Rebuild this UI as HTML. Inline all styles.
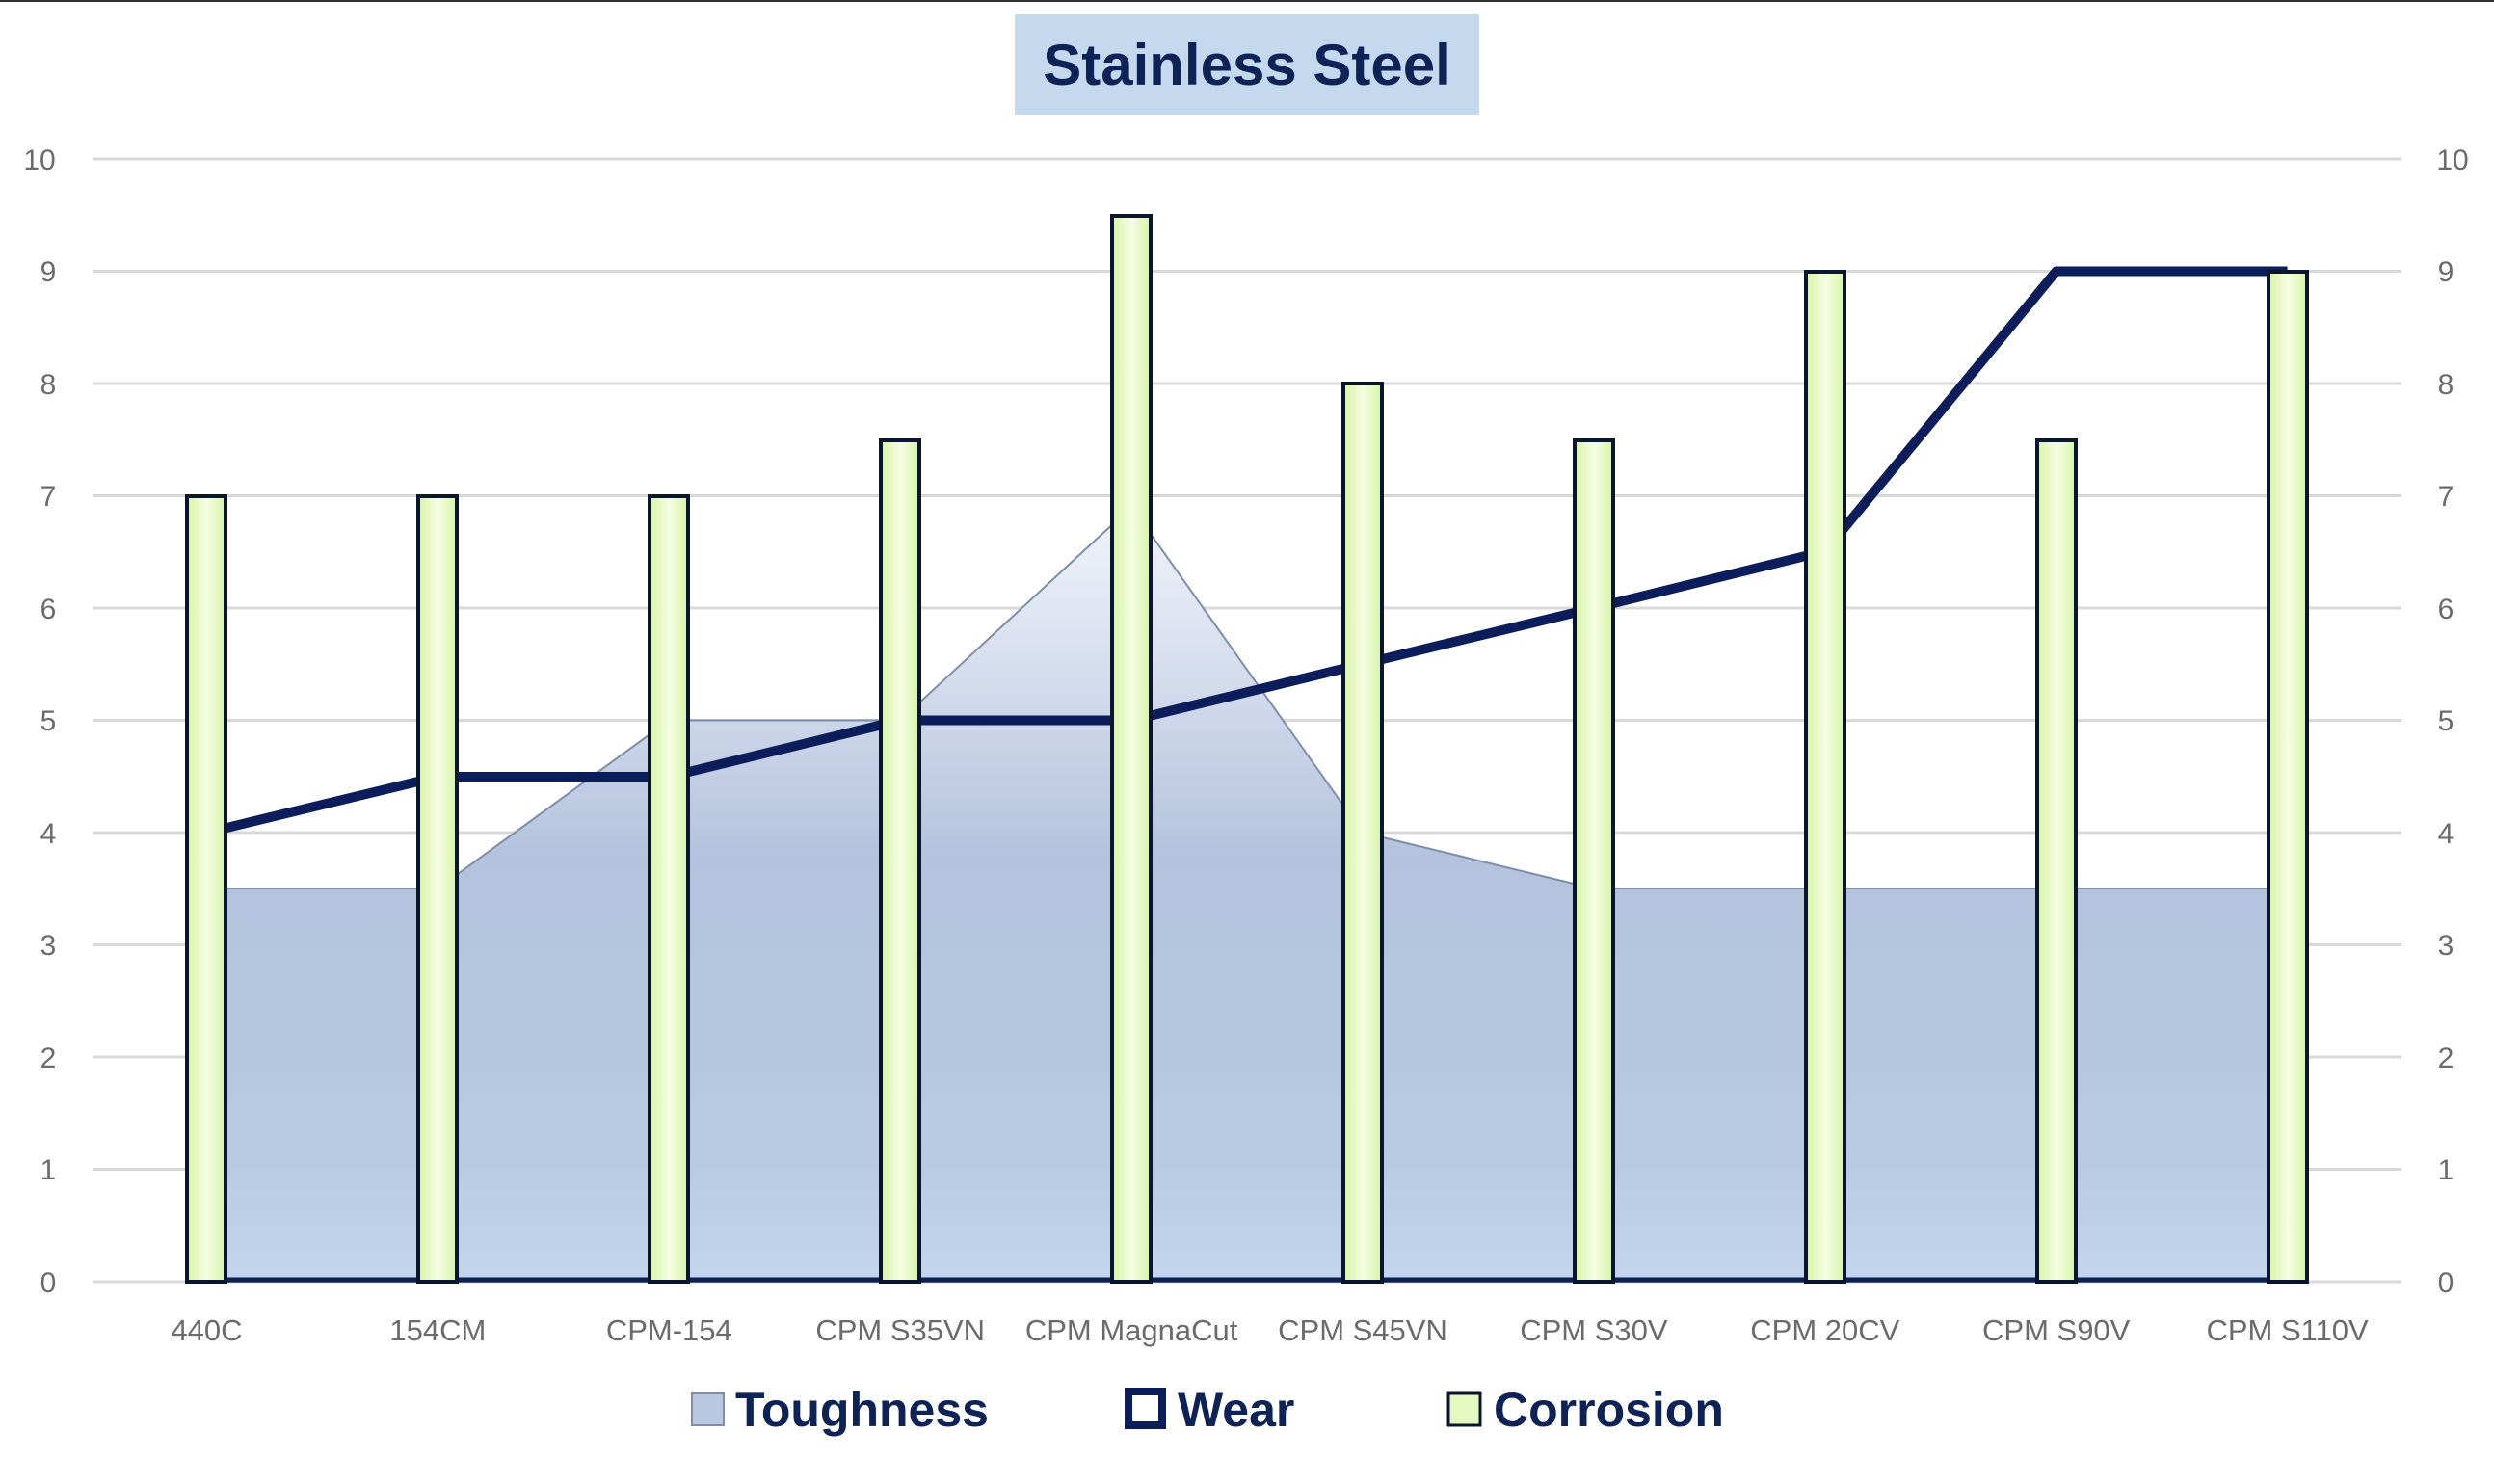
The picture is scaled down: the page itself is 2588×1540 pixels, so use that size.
<!DOCTYPE html>
<html><head><meta charset="utf-8"><style>
html,body{margin:0;padding:0;background:#fff;}
svg{display:block;}
</style></head><body>
<svg width="2588" height="1540" viewBox="0 0 2588 1540" xmlns="http://www.w3.org/2000/svg" font-family="Liberation Sans, sans-serif">
<defs>
<linearGradient id="ag" gradientUnits="userSpaceOnUse" x1="0" y1="530" x2="0" y2="1330">
<stop offset="0" stop-color="#f1f3fa"/>
<stop offset="0.3" stop-color="#c9d3e8"/>
<stop offset="0.45" stop-color="#b3c3dd"/>
<stop offset="0.85" stop-color="#b8cbe2"/>
<stop offset="1" stop-color="#c4d6ee"/>
</linearGradient>
<linearGradient id="bg" x1="0" y1="0" x2="1" y2="0">
<stop offset="0" stop-color="#d8f4a8"/>
<stop offset="0.5" stop-color="#f4fde0"/>
<stop offset="1" stop-color="#d8f4a8"/>
</linearGradient>
</defs>
<rect width="2588" height="1540" fill="#fff"/>
<line x1="0" y1="1" x2="2588" y2="1" stroke="#333" stroke-width="2"/>
<!-- title -->
<rect x="1053" y="15" width="482" height="104" fill="#c5d9ee"/>
<text x="1294" y="88" text-anchor="middle" font-size="60" font-weight="bold" fill="#0d2257">Stainless Steel</text>
<!-- gridlines -->
<g stroke="#d9d9d9" stroke-width="3">
<line x1="96" y1="165" x2="2492" y2="165"/>
<line x1="96" y1="281.5" x2="2492" y2="281.5"/>
<line x1="96" y1="398" x2="2492" y2="398"/>
<line x1="96" y1="514.5" x2="2492" y2="514.5"/>
<line x1="96" y1="631" x2="2492" y2="631"/>
<line x1="96" y1="747.5" x2="2492" y2="747.5"/>
<line x1="96" y1="864" x2="2492" y2="864"/>
<line x1="96" y1="980.5" x2="2492" y2="980.5"/>
<line x1="96" y1="1097" x2="2492" y2="1097"/>
<line x1="96" y1="1213.5" x2="2492" y2="1213.5"/>
<line x1="96" y1="1330" x2="2492" y2="1330"/>
</g>
<!-- y labels -->
<g font-size="30" fill="#6b6b6b" text-anchor="middle">
<text x="41" y="176">10</text><text x="50" y="292">9</text><text x="50" y="409">8</text><text x="50" y="525">7</text><text x="50" y="642">6</text><text x="50" y="758">5</text><text x="50" y="875">4</text><text x="50" y="991">3</text><text x="50" y="1108">2</text><text x="50" y="1224">1</text><text x="50" y="1341">0</text>
<text x="2545" y="176">10</text><text x="2538" y="292">9</text><text x="2538" y="409">8</text><text x="2538" y="525">7</text><text x="2538" y="642">6</text><text x="2538" y="758">5</text><text x="2538" y="875">4</text><text x="2538" y="991">3</text><text x="2538" y="1108">2</text><text x="2538" y="1224">1</text><text x="2538" y="1341">0</text>
</g>
<!-- toughness area -->
<polygon points="214.5,1330 214.5,922 454.4,922 694.3,747.5 934.2,747.5 1174.1,526 1414,864 1653.9,922 1893.8,922 2133.7,922 2373.6,922 2373.6,1330" fill="url(#ag)" stroke="#7f8ea8" stroke-width="2"/>
<line x1="214.5" y1="1328" x2="2373.6" y2="1328" stroke="#0d1f55" stroke-width="5"/>
<!-- wear line -->
<polyline points="214.5,864 454.4,806 694.3,806 934.2,747.5 1174.1,747.5 1414,689 1653.9,631 1893.8,572 2133.7,281.5 2373.6,281.5" fill="none" stroke="#0b1d5a" stroke-width="10" stroke-linejoin="round"/>
<!-- bars -->
<g fill="url(#bg)" stroke="#0a1530" stroke-width="4">
<rect x="194" y="515" width="40" height="815"/>
<rect x="434" y="515" width="40" height="815"/>
<rect x="674" y="515" width="40" height="815"/>
<rect x="914" y="457" width="40" height="873"/>
<rect x="1154" y="224" width="40" height="1106"/>
<rect x="1394" y="398" width="40" height="932"/>
<rect x="1634" y="457" width="40" height="873"/>
<rect x="1874" y="282" width="40" height="1048"/>
<rect x="2114" y="457" width="40" height="873"/>
<rect x="2354" y="282" width="40" height="1048"/>
</g>
<!-- x labels -->
<g font-size="31" fill="#6b6b6b" text-anchor="middle">
<text x="214.5" y="1391">440C</text>
<text x="454.4" y="1391">154CM</text>
<text x="694.3" y="1391">CPM-154</text>
<text x="934.2" y="1391">CPM S35VN</text>
<text x="1174.1" y="1391">CPM MagnaCut</text>
<text x="1414" y="1391">CPM S45VN</text>
<text x="1653.9" y="1391">CPM S30V</text>
<text x="1893.8" y="1391">CPM 20CV</text>
<text x="2133.7" y="1391">CPM S90V</text>
<text x="2373.6" y="1391">CPM S110V</text>
</g>
<!-- legend -->
<rect x="718" y="1446" width="33" height="33" fill="#b9c8e0" stroke="#7f8ea8" stroke-width="2"/>
<text x="763" y="1480" font-size="50" font-weight="bold" fill="#0d2257">Toughness</text>
<rect x="1171" y="1444" width="35" height="35" fill="#fff" stroke="#0b1d5a" stroke-width="8"/>
<text x="1222" y="1480" font-size="50" font-weight="bold" fill="#0d2257">Wear</text>
<rect x="1503" y="1446" width="33" height="33" fill="#e4f9c0" stroke="#0a1530" stroke-width="3"/>
<text x="1550" y="1480" font-size="50" font-weight="bold" fill="#0d2257">Corrosion</text>
</svg>
</body></html>
